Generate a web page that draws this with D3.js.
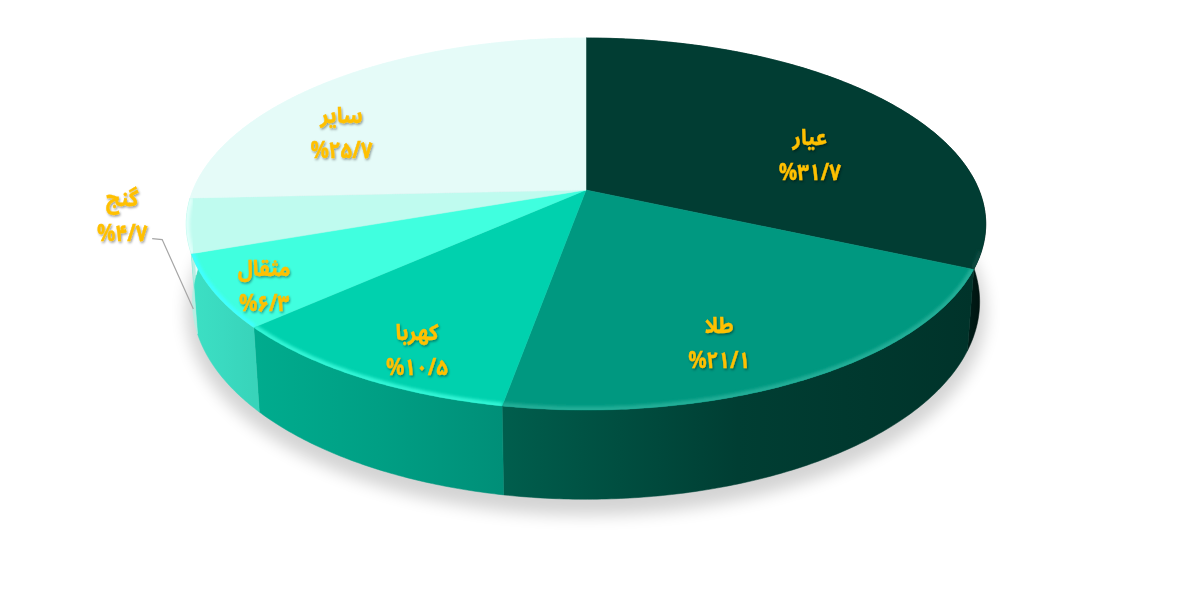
<!DOCTYPE html>
<html lang="fa">
<head>
<meta charset="utf-8">
<script src="https://cdn.jsdelivr.net/npm/d3@7"></script>
<style>
html,body{margin:0;padding:0;background:#fff;overflow:hidden}
svg{display:block}
text{font-family:"Noto Sans Arabic","Noto Kufi Arabic","Vazirmatn","DejaVu Sans",sans-serif;font-weight:700;fill:#FFC000;stroke:#FFC000;stroke-width:.35;text-anchor:middle}
</style>
</head>
<body>
<svg id="chart" width="1181" height="593" viewBox="0 0 1181 593"></svg>
<script>
const categories = ["عیار","طلا","کهربا","مثقال","گنج","سایر"];
const values = [31.7,21.1,10.5,6.3,4.7,25.7];
const valueLabels = ["%۳۱/۷","%۲۱/۱","%۱۰/۵","%۶/۳","%۴/۷","%۲۵/۷"];

const topColors = ["#013D33","#009880","#00D1AE","#40FFDF","#BFFBEF","#E5FBF8"];
const sideLeft  = ["#00382E","#005E4D","#00AC8E","#3CE0C4","#C8F5EC","#E5FBF8"];
const sideMid   = ["#002E26","#003E33","#009F84","#3ADAC0","#C0F1E7","#E5FBF8"];
const sideRight = ["#000F0C","#00332A","#008F78","#38D4BA","#B8EDE2","#E5FBF8"];
const rimColors = ["#0A4A3F","#22AE97","#30F5D5","#40FFFF","#E0FFFA","#E5FBF8"];
const labelOffsets = [[8,29],[-12,28],[-19,36],[-69,27],[-187,1],[-62,23]];

// Tilted-disc perspective projection
const cx = 586, cy = 190, A = 393, B = 179.8, K = 0.183, M = 0.015, C = 77.5;
const rimStart = 1.9, rimEnd = 3 * Math.PI / 2;
function project(theta, r, z) {
  const u = r * Math.sin(theta), v = -r * Math.cos(theta);
  const w = 1 - K * v + M * z;
  return [cx + A * u / w, cy + (B * v + C * z) / w];
}
function arcPts(a0, a1, z) {
  const n = Math.max(2, Math.ceil(Math.abs(a1 - a0) / 0.01));
  return d3.range(n + 1).map(i => project(a0 + (a1 - a0) * i / n, 1, z));
}

const arcs = d3.pie().sort(null).value(d => d).startAngle(0).endAngle(2 * Math.PI)(values);
const line = d3.line();
const svg = d3.select("#chart");
const defs = svg.append("defs");

const blur = (id, sd) => defs.append("filter").attr("id", id)
  .attr("x", "-20%").attr("y", "-20%").attr("width", "140%").attr("height", "140%")
  .append("feGaussianBlur").attr("stdDeviation", sd);
blur("shadowBlur", 8);
blur("rimBlur", 1.8);

const ts = defs.append("filter").attr("id", "textShadow")
  .attr("x", "-20%").attr("y", "-20%").attr("width", "140%").attr("height", "140%");
ts.append("feDropShadow").attr("dx", 1).attr("dy", 1.5).attr("stdDeviation", 1)
  .attr("flood-color", "#000").attr("flood-opacity", 0.4);

arcs.forEach((d, i) => {
  const xs = arcPts(d.startAngle, d.endAngle, 0).map(p => p[0]);
  const g = defs.append("linearGradient").attr("id", "side" + i)
    .attr("gradientUnits", "userSpaceOnUse")
    .attr("x1", d3.min(xs)).attr("x2", d3.max(xs)).attr("y1", 0).attr("y2", 0);
  g.append("stop").attr("offset", 0).attr("stop-color", sideLeft[i]);
  g.append("stop").attr("offset", i === 0 ? 0.9 : 0.5).attr("stop-color", sideMid[i]);
  g.append("stop").attr("offset", 1).attr("stop-color", sideRight[i]);
  defs.append("clipPath").attr("id", "top" + i).append("path")
    .attr("d", line([[cx, cy], ...arcPts(d.startAngle, d.endAngle, 0)]) + "Z");
});

// Soft ground shadow, from the lower disc
svg.append("path")
  .attr("d", line(arcPts(0, 2 * Math.PI, 1)) + "Z")
  .attr("transform", "translate(0,10)")
  .attr("fill", "#000").attr("stroke", "#000").attr("stroke-width", 12).attr("opacity", 0.17)
  .attr("filter", "url(#shadowBlur)");

// Side walls
svg.append("g").selectAll("path").data(arcs).join("path")
  .attr("d", d => line([...arcPts(d.startAngle, d.endAngle, 0), ...arcPts(d.endAngle, d.startAngle, 1)]) + "Z")
  .attr("fill", (d, i) => `url(#side${i})`)
  .attr("stroke", (d, i) => `url(#side${i})`).attr("stroke-width", 0.5);

// Top faces
svg.append("g").selectAll("path").data(arcs).join("path")
  .attr("d", d => line([[cx, cy], ...arcPts(d.startAngle, d.endAngle, 0)]) + "Z")
  .attr("fill", (d, i) => topColors[i])
  .attr("stroke", (d, i) => topColors[i]).attr("stroke-width", 0.5);

// Bevel highlight along the front rim only
svg.append("g").selectAll("g").data(arcs).join("g")
  .attr("clip-path", (d, i) => `url(#top${i})`)
  .append("path")
  .attr("d", d => {
    const a0 = Math.max(d.startAngle, rimStart), a1 = Math.min(d.endAngle, rimEnd);
    return a1 > a0 ? line(arcPts(a0, a1, 0)) : null;
  })
  .attr("fill", "none")
  .attr("stroke", (d, i) => rimColors[i]).attr("stroke-width", 7)
  .attr("filter", "url(#rimBlur)");

// Leader line for the outside label
const lp = project((arcs[4].startAngle + arcs[4].endAngle) / 2, 1, 1);
const la = project((arcs[4].startAngle + arcs[4].endAngle) / 2, 0.7, 0);
const lx = la[0] + labelOffsets[4][0], ly = la[1] + labelOffsets[4][1];
svg.append("polyline")
  .attr("points", [[lx + 30, ly + 23], [lx + 40, ly + 24], [lp[0] + 1, lp[1] + 5]].join(" "))
  .attr("fill", "none").attr("stroke", "#A6A6A6").attr("stroke-width", 1.2);

// Labels: each one is a single two-line text
const labels = svg.append("g").attr("filter", "url(#textShadow)");
arcs.forEach((d, i) => {
  const p = project((d.startAngle + d.endAngle) / 2, 0.7, 0);
  const x = p[0] + labelOffsets[i][0], y = p[1] + labelOffsets[i][1];
  const t = labels.append("text").attr("transform", `translate(${x},${y}) scale(.91,1)`)
    .attr("font-size", 22.5);
  t.append("tspan").attr("x", 0).attr("y", -10).text(categories[i]);
  t.append("tspan").attr("x", 0).attr("y", 25).text(valueLabels[i]);
});
</script>
</body>
</html>
